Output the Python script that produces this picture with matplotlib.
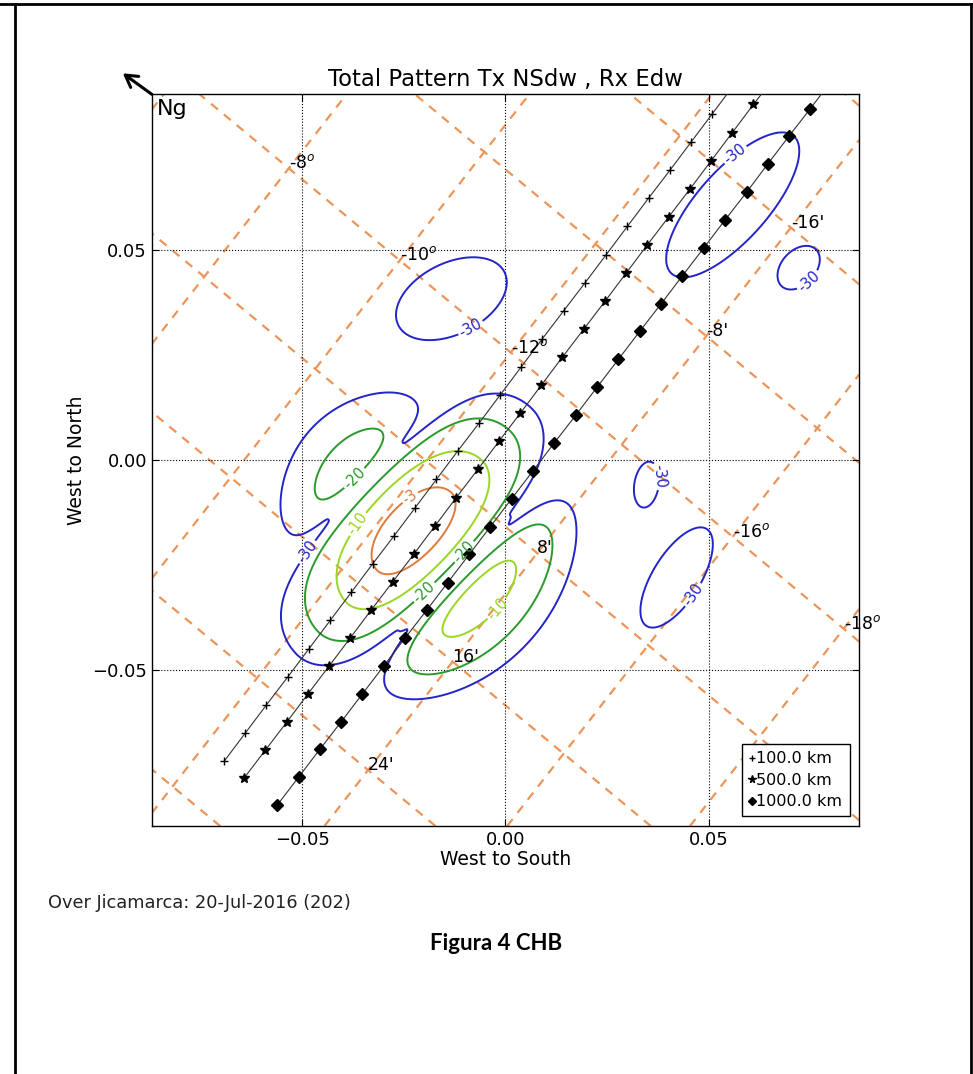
import numpy as np
import matplotlib
matplotlib.use("Agg")
import matplotlib.pyplot as plt
from matplotlib.lines import Line2D

# ---- axes ----
XLIM = (-0.087, 0.087)
YLIM = (-0.087, 0.087)
TICKS = [-0.05, 0.0, 0.05]

# ---- beam points at three ranges ----
R100_X = [-0.0692, -0.0640, -0.0588, -0.0535, -0.0483, -0.0431, -0.0379, -0.0327, -0.0274, -0.0222,
          -0.0170, -0.0118, -0.0065, -0.0013, 0.0039, 0.0091, 0.0143, 0.0196, 0.0248, 0.0300,
          0.0352, 0.0405, 0.0457, 0.0509, 0.0561]
R100_Y = [-0.0716, -0.0649, -0.0582, -0.0515, -0.0448, -0.0381, -0.0314, -0.0247, -0.0180, -0.0113,
          -0.0046, 0.0021, 0.0088, 0.0155, 0.0222, 0.0289, 0.0355, 0.0422, 0.0489, 0.0556,
          0.0623, 0.0690, 0.0757, 0.0824, 0.0891]
R500_X = [-0.0643, -0.0591, -0.0538, -0.0486, -0.0434, -0.0382, -0.0330, -0.0277, -0.0225, -0.0173,
          -0.0121, -0.0068, -0.0016, 0.0036, 0.0088, 0.0140, 0.0193, 0.0245, 0.0297, 0.0349,
          0.0402, 0.0454, 0.0506, 0.0558, 0.0610, 0.0663]
R500_Y = [-0.0756, -0.0690, -0.0623, -0.0556, -0.0490, -0.0423, -0.0356, -0.0289, -0.0223, -0.0156,
          -0.0089, -0.0022, 0.0045, 0.0111, 0.0178, 0.0245, 0.0312, 0.0378, 0.0445, 0.0512,
          0.0579, 0.0645, 0.0712, 0.0779, 0.0846, 0.0912]
R1000_X = [-0.0562, -0.0509, -0.0457, -0.0404, -0.0352, -0.0299, -0.0247, -0.0194, -0.0142, -0.0089,
           -0.0037, 0.0015, 0.0068, 0.0120, 0.0173, 0.0225, 0.0278, 0.0330, 0.0383, 0.0435,
           0.0488, 0.0540, 0.0593, 0.0645, 0.0697, 0.0750, 0.0802]
R1000_Y = [-0.0821, -0.0754, -0.0688, -0.0622, -0.0556, -0.0489, -0.0423, -0.0357, -0.0291, -0.0224,
           -0.0158, -0.0092, -0.0025, 0.0041, 0.0107, 0.0173, 0.0240, 0.0306, 0.0372, 0.0438,
           0.0505, 0.0571, 0.0637, 0.0704, 0.0770, 0.0836, 0.0902]
RANGE_LABELS = ["100.0 km", "500.0 km", "1000.0 km"]

# ---- total pattern (dB) : main beam, two side lobes, far lobes ----
LEVELS = [-30, -20, -10, -3]
LEVEL_COLORS = ["#2424c8", "#2a9a2a", "#9ad622", "#e07a3a"]
MAIN_CENTER = (-0.0224, -0.0170)
MAIN_ANGLE = 45
MAIN_U3DB = 0.013                      # half length of -3 dB along the beam
MAIN_P = 1.5
NULL_NW, NULL_SE = 0.017, 0.014        # first nulls across the beam
NW_PEAK_V, NW_PEAK_DB, NW_K, NW_U3DB = 0.0227, -16.5, 1.5, 0.0102
SE_PEAK_V, SE_PEAK_DB, SE_K, SE_U3DB = 0.0225, -6.5, 3.3, 0.0112
FLOOR_DB, FLOOR_U_NW, FLOOR_U_SE, FLOOR_V = -28.5, 0.022, 0.033, 0.004
FAR_X = [-0.0133, 0.0559, 0.0722, 0.0347, 0.0421]
FAR_Y = [0.0384, 0.0607, 0.0457, -0.0058, -0.0279]
FAR_A = [0.0145, 0.0222, 0.0060, 0.0055, 0.0137]
FAR_B = [0.0085, 0.0085, 0.0040, 0.0030, 0.0058]
FAR_ANG = [25, 47, 45, 80, 57]
FAR_PEAK_DB = -27
CLABEL_XY = [(-0.0500, -0.0210), (-0.0086, 0.0315), (0.0549, 0.0747), (0.0727, 0.0445),
             (0.0389, -0.0037), (0.0475, -0.0329), (-0.0365, -0.0049), (-0.0099, -0.0220),
             (-0.0185, -0.0329), (-0.0365, -0.0151), (-0.0020, -0.0353), (-0.0234, -0.0089)]

# ---- dip / declination grid (orange dashed) ----
GRID_ANCHOR = (0.0286, 0.0037)         # crossing of -14 deg and 0' lines
DIP_ANCHOR_VAL = -14
DIP_STEP = (0.0273, -0.0219)           # from one 2-deg line to the next (value -2)
DEC_STEP = (-0.0208, -0.0258)          # from one 8' line to the next (value +8)
DIP_LEVELS = [-22, -20, -18, -16, -14, -12, -10, -8, -6, -4]
DEC_LEVELS = [-40, -32, -24, -16, -8, 0, 8, 16, 24, 32, 40]
DIP_LABELS = [-8, -10, -12, -16, -18]
DEC_LABELS = [-16, -8, 8, 16, 24]
GRID_COLOR = "#ec9558"


def rot(x, y, cx, cy, ang):
    t = np.deg2rad(ang); dx, dy = x - cx, y - cy
    return dx * np.cos(t) + dy * np.sin(t), -dx * np.sin(t) + dy * np.cos(t)

def lobe(d, d0, k):
    r = np.clip(d / d0, 0, None)
    return r ** k * np.exp(k * (1 - r))

def along(u, u3):
    return 10 ** (-3 * (u / u3) ** 2 / 20)

def pattern_db(X, Y):
    u, v = rot(X, Y, MAIN_CENTER[0], MAIN_CENTER[1], MAIN_ANGLE)
    h = np.where(v >= 0, NULL_NW, NULL_SE)
    fmain = along(u, MAIN_U3DB) * np.cos(np.pi / 2 * np.clip(np.abs(v) / h, 0, 1)) ** MAIN_P
    fnw = along(u, NW_U3DB) * 10 ** (NW_PEAK_DB / 20) * lobe(v - NULL_NW, NW_PEAK_V - NULL_NW, NW_K)
    fse = along(u, SE_U3DB) * 10 ** (SE_PEAK_DB / 20) * lobe(-v - NULL_SE, SE_PEAK_V - NULL_SE, SE_K)
    P = fmain ** 2 + fnw ** 2 + fse ** 2
    fl = 10 ** (FLOOR_DB / 10)
    P += fl * np.exp(-(u / FLOOR_U_NW) ** 2) * np.exp(-((v - NULL_NW) / FLOOR_V) ** 2)
    P += fl * np.exp(-(u / FLOOR_U_SE) ** 2) * np.exp(-((v + NULL_SE) / FLOOR_V) ** 2)
    c = (FAR_PEAK_DB + 30) / 4.343
    for xc, yc, a, b, ang in zip(FAR_X, FAR_Y, FAR_A, FAR_B, FAR_ANG):
        p, q = rot(X, Y, xc, yc, ang)
        P += 10 ** (FAR_PEAK_DB / 10) * np.exp(-c * ((p / a) ** 2 + (q / b) ** 2))
    return 10 * np.log10(P + 1e-12)


fig = plt.figure(figsize=(9.73, 10.74), dpi=100, facecolor="white")
ax = fig.add_axes([0.156, 0.2309, 0.727, 0.6813])
ax.set_xlim(*XLIM); ax.set_ylim(*YLIM)

gx = np.linspace(XLIM[0], XLIM[1], 700); gy = np.linspace(YLIM[0], YLIM[1], 700)
X, Y = np.meshgrid(gx, gy)

# orange geomagnetic grid as isolines of two linear fields
S = np.array([DIP_STEP, DEC_STEP])
g_dip = np.linalg.solve(S, [-2.0, 0.0]); g_dec = np.linalg.solve(S, [0.0, 8.0])
dip = DIP_ANCHOR_VAL + g_dip[0] * (X - GRID_ANCHOR[0]) + g_dip[1] * (Y - GRID_ANCHOR[1])
dec = g_dec[0] * (X - GRID_ANCHOR[0]) + g_dec[1] * (Y - GRID_ANCHOR[1])
for fld, lv in ((dip, DIP_LEVELS), (dec, DEC_LEVELS)):
    ax.contour(X, Y, fld, levels=lv, colors=GRID_COLOR, linewidths=1.6,
               linestyles=[(0, (4, 3.5))], zorder=1)
for d in DIP_LABELS:
    k = (d - DIP_ANCHOR_VAL) / -2.0
    ax.text(GRID_ANCHOR[0] + k * DIP_STEP[0], GRID_ANCHOR[1] + k * DIP_STEP[1], f"{d}$^o$",
            fontsize=12.5, ha="left", va="baseline", zorder=4)
for m in DEC_LABELS:
    k = m / 8.0
    ax.text(GRID_ANCHOR[0] + k * DEC_STEP[0], GRID_ANCHOR[1] + k * DEC_STEP[1], f"{m}'",
            fontsize=12.5, ha="left", va="baseline", zorder=4)

# antenna pattern
Z = pattern_db(X, Y)
cs = ax.contour(X, Y, Z, levels=LEVELS, colors=LEVEL_COLORS, linewidths=1.4, zorder=2)
ax.clabel(cs, manual=CLABEL_XY, fmt="%d", fontsize=10.5, inline=True, inline_spacing=2)

# beam lines
ax.plot(R100_X, R100_Y, "-", color="#333333", lw=0.8, marker="+", ms=6, mew=1, mec="k", zorder=3)
ax.plot(R500_X, R500_Y, "-", color="#333333", lw=0.8, marker="*", ms=7.5, mec="k", mfc="k", zorder=3)
ax.plot(R1000_X, R1000_Y, "-", color="#333333", lw=0.8, marker="D", ms=6, mec="k", mfc="k", zorder=3)
handles = [Line2D([], [], ls="None", marker=mk, color="k", ms=s, mew=1)
           for mk, s in (("+", 5), ("*", 5.5), ("D", 4.5))]
leg = ax.legend(handles, RANGE_LABELS, loc="lower right", fontsize=11.5, handlelength=0.4,
                handletextpad=0.05, borderaxespad=0.6, labelspacing=0.4, fancybox=False,
                framealpha=1, borderpad=0.45)
leg.get_frame().set_edgecolor("k"); leg.get_frame().set_linewidth(1.0)

ax.set_xticks(TICKS); ax.set_yticks(TICKS)
ax.grid(True, ls=":", color="k", lw=0.8)
ax.tick_params(direction="in", top=True, right=True, length=5, labelsize=13)
for s in ax.spines.values(): s.set_linewidth(1.0)
ax.set_title("Total Pattern Tx NSdw , Rx Edw", fontsize=16.4, pad=6)
ax.set_xlabel("West to South", fontsize=13.5, labelpad=1)
ax.set_ylabel("West to North", fontsize=13.5, labelpad=4)
ax.text(0.007, 0.993, "Ng", transform=ax.transAxes, fontsize=16, ha="left", va="top", zorder=5)
ax.annotate("", xy=(-0.041, 1.0287), xycoords="axes fraction", xytext=(0, 1), textcoords="axes fraction",
            arrowprops=dict(arrowstyle="->,head_length=0.6,head_width=0.35", lw=2.2, color="k",
                            mutation_scale=14, shrinkA=0, shrinkB=0))

# page text and frame
fig.text(48 / 973, 1 - 903 / 1074, "Over Jicamarca: 20-Jul-2016 (202)", fontsize=12.8, ha="left", va="center",
         color="#222222")
fig.text(496 / 973, 1 - 943 / 1074, "Figura 4 CHB", fontsize=16, fontweight="bold", family="Lato",
         ha="center", va="center")
for xs, ys in (([0, 971 / 973], [1 - 4 / 1074] * 2), ([15 / 973] * 2, [1 - 4 / 1074, 0]),
               ([971 / 973] * 2, [1 - 4 / 1074, 0])):
    fig.add_artist(Line2D(xs, ys, transform=fig.transFigure, color="k", lw=2.0))

fig.savefig("out.png", dpi=100, facecolor="white")
